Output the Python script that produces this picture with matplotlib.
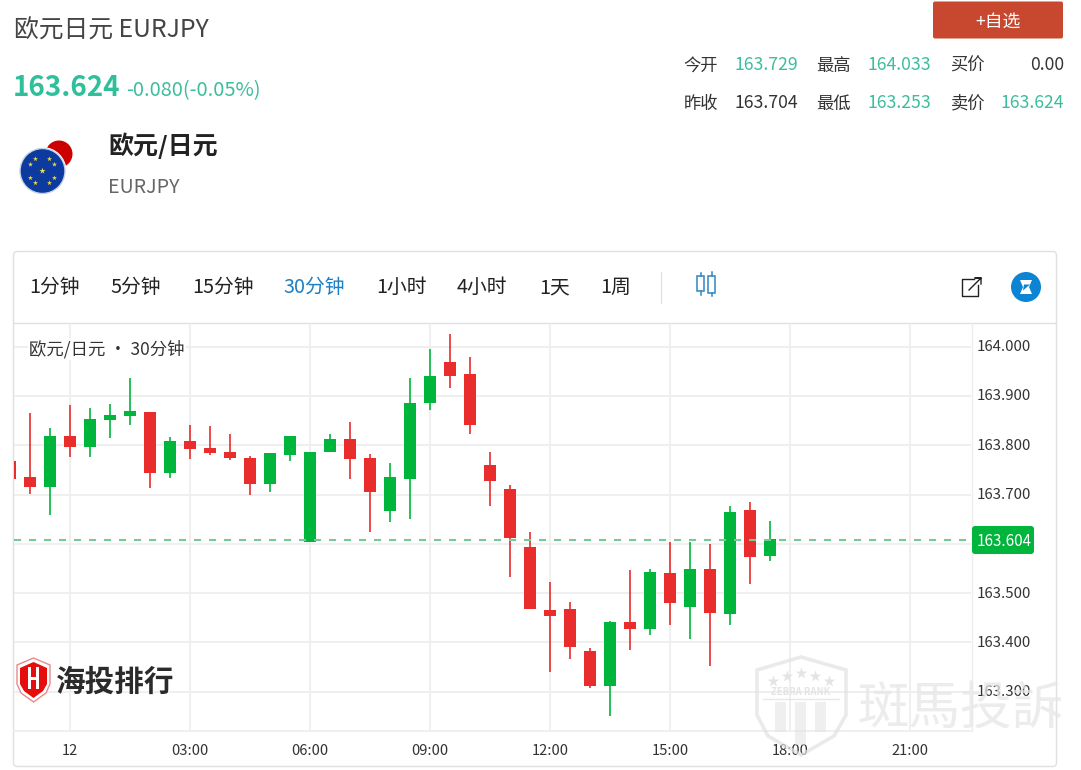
import matplotlib
matplotlib.use("Agg")
import matplotlib.pyplot as plt
from matplotlib.patches import Circle, FancyBboxPatch, Polygon, Rectangle

plt.rcParams['font.family'] = ['Noto Sans CJK SC', 'DejaVu Sans']

# half-hour slots relative to 00:00
slots = list(range(-3, 36))
opens = [163.768,163.735,163.715,163.819,163.796,163.851,163.859,163.868,163.743,163.809,163.794,163.786,163.775,163.722,163.781,
         163.603,163.787,163.813,163.775,163.667,163.732,163.886,163.969,163.944,163.759,163.711,163.593,163.465,163.467,163.383,
         163.312,163.442,163.427,163.540,163.472,163.550,163.458,163.669,163.576]
highs = [163.770,163.865,163.835,163.882,163.876,163.884,163.937,163.868,163.817,163.841,163.839,163.823,163.778,163.784,163.819,
         163.786,163.823,163.847,163.782,163.764,163.937,163.995,164.025,163.979,163.786,163.719,163.624,163.522,163.483,163.388,
         163.444,163.548,163.550,163.603,163.603,163.600,163.677,163.685,163.647]
lows = [163.730,163.701,163.658,163.776,163.776,163.815,163.842,163.713,163.733,163.773,163.780,163.771,163.700,163.706,163.768,
        163.603,163.787,163.732,163.624,163.644,163.650,163.872,163.916,163.823,163.677,163.532,163.468,163.341,163.366,163.308,
        163.250,163.385,163.415,163.435,163.408,163.353,163.435,163.518,163.565]
closes = [163.732,163.715,163.819,163.796,163.853,163.861,163.869,163.743,163.809,163.792,163.784,163.775,163.721,163.784,163.819,
          163.786,163.813,163.773,163.705,163.736,163.885,163.940,163.941,163.841,163.728,163.611,163.468,163.454,163.390,163.312,
          163.442,163.427,163.542,163.481,163.550,163.460,163.665,163.574,163.609]

price_ticks = [164.0, 163.9, 163.8, 163.7, 163.6, 163.5, 163.4, 163.3]
price_labels = ['164.000','163.900','163.800','163.700',None,'163.500','163.400','163.300']
time_slots = [0, 6, 12, 18, 24, 30, 36, 42]
time_labels = ['12','03:00','06:00','09:00','12:00','15:00','18:00','21:00']
last_line = 163.608
last_label = '163.604'
tabs = ['1分钟','5分钟','15分钟','30分钟','1小时','4小时','1天','1周']
tab_x = [29, 110, 192, 283, 376, 457, 539, 600]

UP, DOWN = '#00b53c', '#e92c2c'
W, H = 1081, 770
fig = plt.figure(figsize=(W/100, H/100), dpi=100, facecolor='white')

# page layer in pixels
bg = fig.add_axes([0, 0, 1, 1], zorder=0)
bg.set_xlim(0, W); bg.set_ylim(H, 0); bg.axis('off')

def fs(px):
    return px * 0.72

def T(x, y, s, px, c='#333333', ha='left', va='center', **k):
    return bg.text(x, y + 1.5, s, fontsize=fs(px), color=c, ha=ha, va=va, **k)

# header
T(14, 29, '欧元日元 EURJPY', 24.8, '#444444')
T(13, 87, '163.624', 27.8, '#30bf9b', fontweight='bold')
T(126, 89, '-0.080(-0.05%)', 20, '#3dbd9c')
T(108, 144.5, '欧元/日元', 25, '#222222', fontweight='bold')
T(108, 186, 'EURJPY', 19.6, '#666666')

bg.add_patch(FancyBboxPatch((933, 1.5), 130, 37, boxstyle='round,pad=0,rounding_size=2', fc='#c8472f', ec='none'))
T(998, 20.5, '+自选', 17.8, 'white', ha='center')

GREEN_T = '#3dbd9c'
rows = [(64, ['今开','最高','买价'], ['163.729','164.033','0.00'], [GREEN_T, GREEN_T, '#333333']),
        (102, ['昨收','最低','卖价'], ['163.704','163.253','163.624'], ['#333333', GREEN_T, GREEN_T])]
for y, names, vals, cols in rows:
    for nx, name in zip([683.5, 816.5, 950.5], names):
        T(nx, y, name, 17.3, '#333333')
    for vx, v, c in zip([798, 931, 1064.5], vals, cols):
        T(vx, y, v, 17.7, c, ha='right')

# logo
bg.add_patch(Circle((59, 154), 13.5, fc='#cc0000', ec='none'))
bg.add_patch(Circle((42.5, 171), 24, fc='white', ec='none'))
bg.add_patch(Circle((42.5, 171), 22.5, fc='#0d3a9e', ec='#c5d4ea', lw=1))
bg.scatter([42.5, 35.5, 49.5, 30.5, 54.5, 30.5, 54.5, 35.5, 49.5],
           [171, 159, 159, 164.5, 164.5, 178, 178, 183, 183],
           marker='*', s=[22, 14, 14, 14, 14, 14, 14, 14, 14], c='#e8dc4a', linewidths=0, zorder=5)

# panel
bg.add_patch(FancyBboxPatch((13.5, 251.5), 1043, 515, boxstyle='round,pad=0,rounding_size=4', fc='white', ec='#e0e0e0', lw=1))
bg.plot([14, 1056], [322.5, 322.5], color='#e0e0e0', lw=1)
bg.plot([660.5, 660.5], [272, 303], color='#e0e0e0', lw=0.9)
for x, s in zip(tab_x, tabs):
    T(x, 286, s, 19.8, '#1f7fc4' if s == '30分钟' else '#222222')

# candlestick icon
ic = '#2f86c5'
for cx, top, bot, lo, hi in [(700.5, 276, 291, 273, 295), (711.5, 276, 293, 272, 296)]:
    bg.plot([cx, cx], [lo, top], color=ic, lw=1.1)
    bg.plot([cx, cx], [bot, hi], color=ic, lw=1.1)
    bg.add_patch(Rectangle((cx-3.5, top), 7, bot-top, fc='none', ec=ic, lw=1.1))
# share icon
bg.plot([974, 962, 962, 978, 978], [279, 279, 296, 296, 285], color='#222222', lw=1)
bg.plot([969, 981, 975, 981, 981], [290, 278, 278, 278, 284], color='#222222', lw=1)
# round badge
bg.add_patch(Circle((1026, 287), 15, fc='#0b84d4', ec='none'))
bg.add_patch(Polygon([(1020, 280), (1032, 280), (1029, 287), (1032, 294), (1020, 294), (1023, 287)], fc='white', ec='none'))
bg.add_patch(Polygon([(1024, 284.5), (1030, 284.5), (1023, 290.5)], fc='#0b84d4', ec='none'))

# chart
ax = fig.add_axes([14/W, 1-731/H, (971-14)/W, (731-323)/H], zorder=1)
ax.patch.set_alpha(0)
ax.set_xlim(-2.8, 45.05)
ax.set_ylim(163.2205, 164.048)
for s in ax.spines.values():
    s.set_visible(False)
ax.set_xticks(time_slots); ax.set_yticks(price_ticks)
ax.tick_params(length=0, labelbottom=False, labelleft=False)
ax.grid(True, color='#eeeeee', lw=1.3, zorder=0)
ax.set_axisbelow(True)
for o, h, l, c, x in zip(opens, highs, lows, closes, slots):
    col = UP if c >= o else DOWN
    ax.vlines(x, l, h, color=col, lw=1.2, zorder=2)
    ax.bar(x, abs(c-o), bottom=min(o, c), width=0.56, color=col, lw=0, zorder=3)
ax.axhline(last_line, color='#74cb96', lw=1.5, dashes=(3.4, 3.8), zorder=4)

for x, s in zip(time_slots, time_labels):
    bg.text(70 + 20*x, 751, s, fontsize=fs(14.7), color='#333333', ha='center', va='center')
for p, s in zip(price_ticks, price_labels):
    if s:
        bg.text(977, 347.2 + (164 - p)*493, s, fontsize=fs(15), color='#333333', va='center')
bg.plot([971.5, 971.5], [323, 731], color='#eeeeee', lw=1)
bg.plot([14, 971], [731, 731], color='#eeeeee', lw=1.3)

# top layer: chart caption, price badge and watermarks
fg = fig.add_axes([0, 0, 1, 1], zorder=2)
fg.set_xlim(0, W); fg.set_ylim(H, 0); fg.axis('off'); fg.patch.set_alpha(0)
fg.text(29, 349, '欧元/日元 ・ 30分钟', fontsize=fs(17.4), color='#333333', va='center',
        bbox=dict(fc='white', ec='none', pad=1))
fg.add_patch(FancyBboxPatch((972, 526), 62, 28, boxstyle='round,pad=0,rounding_size=3', fc=UP, ec='none'))
fg.text(1004, 541.5, last_label, fontsize=fs(15.2), color='white', ha='center', va='center', fontweight='medium')

# red shield logo
shield = [(33.5, 658), (50, 665), (50, 684), (46, 693), (33.5, 702), (21, 693), (17, 684), (17, 665)]
inner = [(33.5, 662), (47, 668), (47, 684), (43, 691), (33.5, 698), (24, 691), (20, 684), (20, 668)]
fg.add_patch(Polygon(shield, fc='white', ec='#e88a8a', lw=1))
fg.add_patch(Polygon(inner, fc='#e60d0d', ec='none'))
fg.add_patch(Rectangle((28, 667), 3, 22, fc='white', ec='none'))
fg.add_patch(Rectangle((36, 667), 3, 22, fc='white', ec='none'))
fg.add_patch(Rectangle((28, 677), 11, 3, fc='white', ec='none'))
fg.text(56, 681.5, '海投排行', fontsize=fs(29.6), color='#2b2b2b', fontweight='bold', va='center')

# grey shield watermark
wm = '#e2e2e2'
sh = [(801, 657), (846, 670), (846, 715), (834, 736), (801, 755), (768, 736), (757, 715), (757, 670)]
fg.add_patch(Polygon(sh, fc='none', ec=wm, lw=2.6, alpha=0.7))
fg.text(801, 692, 'ZEBRA RANK', fontsize=fs(9.5), color=wm, ha='center', va='center', fontweight='bold', alpha=0.9)
fg.plot([763, 839], [699, 699], color=wm, lw=1, alpha=0.8)
for cx, cy in [(773, 681), (787, 676), (801, 673), (815, 676), (829, 681)]:
    fg.scatter([cx], [cy], marker='*', s=80, c=wm, linewidths=0, alpha=0.9)
for x0, y1 in [(775, 732), (795, 745), (815, 732)]:
    fg.add_patch(Rectangle((x0, 702), 11, y1-702, fc=wm, ec='none', alpha=0.55))
fg.text(858, 709, '斑馬投訴', fontsize=fs(51.5), color='#e6e6e6', va='center', alpha=0.75)

fig.savefig('out.png', dpi=100)
